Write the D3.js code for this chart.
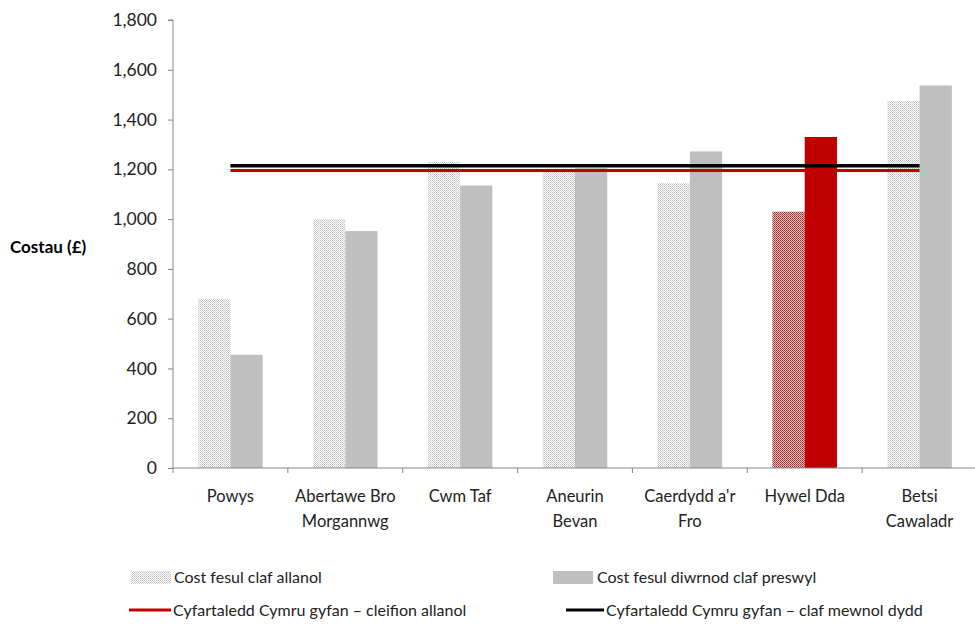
<!DOCTYPE html>
<html><head><meta charset="utf-8">
<script src="https://cdn.jsdelivr.net/npm/d3@7"></script>
<style>body{margin:0;background:#fff;} text{font-family:Lato,"Open Sans",sans-serif;}</style>
</head><body>
<svg id="c" width="975" height="628"></svg>
<script>
const categories = [["Powys"],["Abertawe Bro","Morgannwg"],["Cwm Taf"],["Aneurin","Bevan"],["Caerdydd a'r","Fro"],["Hywel Dda"],["Betsi","Cawaladr"]];
const outpatientCost = [680, 1000, 1230, 1200, 1145, 1030, 1475];
const inpatientDayCost = [455, 952, 1135, 1205, 1272, 1330, 1537];
const avgOutpatient = 1195;
const avgInpatientDay = 1214;
const highlightIndex = 5;
const yTicks = [0,200,400,600,800,1000,1200,1400,1600,1800];
const legendLabels = ["Cost fesul claf allanol","Cost fesul diwrnod claf preswyl","Cyfartaledd Cymru gyfan – cleifion allanol","Cyfartaledd Cymru gyfan – claf mewnol dydd"];

const svg = d3.select("#c");
const L=173, R=977, T=20, B=468;
const defs = svg.append("defs");
function pat(id, fg, bg, op){
  const p = defs.append("pattern").attr("id",id).attr("width",4).attr("height",4).attr("patternUnits","userSpaceOnUse");
  p.append("rect").attr("width",4).attr("height",4).attr("fill",bg);
  [[0,0],[2,0],[1,1],[0,2],[2,2],[3,3],[3,1],[1,3]].forEach(([x,y])=>{
    p.append("rect").attr("x",x).attr("y",y).attr("width",1).attr("height",1).attr("fill",fg).attr("opacity", (x%2===0)?op:op*0.7);
  });
}
pat("hatchGray","#bcbcbc","#fff",0.95);
pat("hatchRed","#9e2222","#e2c0c0",1);

const x = d3.scaleBand().domain(d3.range(categories.length)).range([L,R]).paddingInner(0).paddingOuter(0);
const inner = d3.scaleBand().domain([0,1]).range([0,x.bandwidth()]).paddingOuter(0.78).paddingInner(0);
const y = d3.scaleLinear().domain([0,1800]).range([B,T]);

// bars
const g = svg.append("g");
categories.forEach((c,i)=>{
  const hl = i===highlightIndex;
  g.append("rect").attr("x",x(i)+inner(0)).attr("width",inner.bandwidth())
   .attr("y",y(outpatientCost[i])).attr("height",B-y(outpatientCost[i]))
   .attr("fill", hl?"url(#hatchRed)":"url(#hatchGray)");
  g.append("rect").attr("x",x(i)+inner(1)).attr("width",inner.bandwidth())
   .attr("y",y(inpatientDayCost[i])).attr("height",B-y(inpatientDayCost[i]))
   .attr("fill", hl?"#c00000":"#bfbfbf");
});

// average lines
const x0 = x(0)+x.bandwidth()/2, x1 = x(categories.length-1)+x.bandwidth()/2;
svg.append("line").attr("x1",x0).attr("x2",x1).attr("y1",y(avgInpatientDay)).attr("y2",y(avgInpatientDay)).attr("stroke","#000").attr("stroke-width",3.5);
svg.append("line").attr("x1",x0).attr("x2",x1).attr("y1",y(avgOutpatient)).attr("y2",y(avgOutpatient)).attr("stroke","#c00000").attr("stroke-width",3);

// y axis
const ya = svg.append("g").attr("transform",`translate(${L},0)`)
  .call(d3.axisLeft(y).tickValues(yTicks).tickFormat(d3.format(",")).tickSize(5).tickPadding(11));
ya.select(".domain").attr("stroke","#868686").attr("d",`M-5,${T}H0V${B}`);
ya.selectAll(".tick line").attr("stroke","#868686");
ya.selectAll("text").attr("font-size",17.5).attr("fill","#222").style("font-family","Lato,sans-serif");

// x axis
svg.append("line").attr("x1",L).attr("x2",R).attr("y1",B).attr("y2",B).attr("stroke","#868686");
d3.range(categories.length+1).forEach(i=>{
  const xx = L + i*x.bandwidth();
  svg.append("line").attr("x1",xx).attr("x2",xx).attr("y1",B).attr("y2",B+5).attr("stroke","#868686");
});
categories.forEach((c,i)=>{
  const t = svg.append("text").attr("x",x(i)+x.bandwidth()/2).attr("y",502).attr("text-anchor","middle").attr("font-size",16.5).attr("fill","#222");
  c.forEach((s,j)=>t.append("tspan").attr("x",x(i)+x.bandwidth()/2).attr("dy",j?25:0).text(s));
});

// y title
svg.append("text").attr("x",10).attr("y",253).attr("font-size",17).attr("font-weight","bold").attr("fill","#000").text("Costau (£)");

// legend
svg.append("rect").attr("x",131).attr("y",571).attr("width",40).attr("height",13).attr("fill","url(#hatchGray)");
svg.append("text").attr("x",174).attr("y",583).attr("font-size",16).attr("fill","#222").text(legendLabels[0]);
svg.append("rect").attr("x",553).attr("y",571).attr("width",40).attr("height",13).attr("fill","#bfbfbf");
svg.append("text").attr("x",597).attr("y",583).attr("font-size",16).attr("fill","#222").text(legendLabels[1]);
svg.append("line").attr("x1",129).attr("x2",171).attr("y1",610).attr("y2",610).attr("stroke","#c00000").attr("stroke-width",3);
svg.append("text").attr("x",173).attr("y",616).attr("font-size",16).attr("fill","#222").text(legendLabels[2]);
svg.append("line").attr("x1",566).attr("x2",604).attr("y1",610).attr("y2",610).attr("stroke","#000").attr("stroke-width",3);
svg.append("text").attr("x",606).attr("y",616).attr("font-size",16).attr("fill","#222").text(legendLabels[3]);
</script>
</body></html>
